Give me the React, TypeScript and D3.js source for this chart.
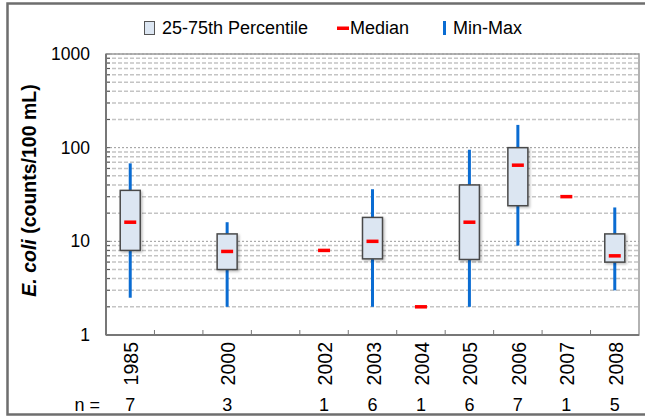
import React from "react";
import * as d3 from "d3";

const slots = ["1985", "gapA", "2000", "gapB", "2002", "2003", "2004", "2005", "2006", "2007", "2008"];
const years = ["1985", "2000", "2002", "2003", "2004", "2005", "2006", "2007", "2008"];
const q1 = [8, 5, null, 6.5, null, 6.4, 24, null, 6];
const q3 = [35, 12, null, 18, null, 40, 100, null, 12];
const medians = [16, 7.8, 8, 10, 2, 16, 65, 30, 7];
const mins = [2.5, 2, null, 2, null, 2, 9, null, 3];
const maxs = [68, 16, null, 36, null, 95, 175, null, 23];
const counts = [7, 3, 1, 6, 1, 6, 7, 1, 5];
const yTickLabels = [1, 10, 100, 1000];

const W = 645, H = 418;
const M = { left: 106, right: 639, top: 54, bottom: 335 };
const FONT = "Liberation Sans, Arial, sans-serif";
const BLUE = "#0a6cd2";
const RED = "#ff0000";

export default function App() {
  const x = d3.scaleBand<string>().domain(slots).range([M.left, M.right]);
  const y = d3.scaleLog().domain([1, 1000]).range([M.bottom, M.top]);
  const cx = (yr: string) => (x(yr) as number) + x.bandwidth() / 2;

  const gridVals: { v: number; major: boolean }[] = [];
  for (let d = 1; d <= 100; d *= 10) {
    for (let k = 1; k <= 10; k++) {
      const v = d * k;
      if (v === 1) continue;
      if (k === 10 && d < 100) continue;
      gridVals.push({ v, major: k === 1 || k === 10 });
    }
  }

  const boxW = 20, medW = 12;
  const boundaries = slots.slice(1).map((s) => x(s) as number);

  return (
    <svg width={W} height={H} style={{ display: "block", position: "absolute", left: 0, top: 0 }} fontFamily={FONT}>
      <defs>
        <filter id="sh" x="-20%" y="-20%" width="150%" height="150%">
          <feDropShadow dx="1.5" dy="1.5" stdDeviation="0.8" floodColor="#000" floodOpacity="0.25" />
        </filter>
      </defs>
      <rect x={0} y={0} width={W} height={H} fill="#fff" />
      <rect x={7.5} y={3.5} width={W + 5} height={411} fill="none" stroke="#6e6e6e" strokeWidth={2.5} />

      {/* legend */}
      <g fontSize={18} fill="#000">
        <rect x={144.5} y={21.5} width={10} height={13} fill="#dce6f2" stroke="#555" strokeWidth={1} />
        <text x={162} y={28} dominantBaseline="central">25-75th Percentile</text>
        <rect x={337} y={26.5} width={12} height={3.5} fill={RED} />
        <text x={350} y={28} dominantBaseline="central">Median</text>
        <rect x={443} y={21} width={3} height={14} fill={BLUE} />
        <text x={453} y={28} dominantBaseline="central">Min-Max</text>
      </g>

      {/* gridlines */}
      {gridVals.map((g) => (
        <line key={"g" + g.v} x1={M.left} x2={M.right} y1={y(g.v)} y2={y(g.v)}
          stroke={g.major ? "#9a9a9a" : "#c4c4c4"} strokeWidth={g.major ? 1 : 1.5}
          strokeDasharray={g.major ? "2,2" : "4,2"} />
      ))}
      {/* y ticks */}
      {gridVals.map((g) => (
        <line key={"t" + g.v} x1={M.left} x2={M.left + 4} y1={y(g.v)} y2={y(g.v)} stroke="#555" strokeWidth={1} />
      ))}

      {/* plot border */}
      <rect x={M.left} y={M.top} width={M.right - M.left} height={M.bottom - M.top} fill="none" stroke="#9a9a9a" strokeWidth={1.5} />
      <line x1={M.left} x2={M.left} y1={M.top} y2={M.bottom} stroke="#777" strokeWidth={2} />
      <line x1={M.left} x2={M.right} y1={M.bottom} y2={M.bottom} stroke="#777" strokeWidth={2} />
      {boundaries.map((bx, i) => (
        <line key={"xt" + i} x1={bx} x2={bx} y1={M.bottom} y2={M.bottom - 5} stroke="#777" strokeWidth={1} />
      ))}

      {/* y tick labels */}
      {yTickLabels.map((v) => (
        <text key={"yl" + v} x={90} y={y(v)} textAnchor="end" dominantBaseline="central" fontSize={17.5}>{v}</text>
      ))}

      {/* y title */}
      <text transform={`translate(29,${(M.top + M.bottom) / 2 - 4}) rotate(-90)`} textAnchor="middle" dominantBaseline="central" fontSize={19.5} fontWeight="bold">
        <tspan fontStyle="italic">E. coli</tspan> (counts/100 mL)
      </text>

      {/* marks */}
      {years.map((yr, i) => {
        const c = cx(yr);
        return (
          <g key={yr}>
            {mins[i] != null && maxs[i] != null && (
              <line x1={c} x2={c} y1={y(mins[i] as number)} y2={y(maxs[i] as number)} stroke={BLUE} strokeWidth={3} />
            )}
            {q1[i] != null && q3[i] != null && (
              <rect x={c - boxW / 2} y={y(q3[i] as number)} width={boxW} height={y(q1[i] as number) - y(q3[i] as number)}
                fill="#dce6f2" stroke="#4a4a4a" strokeWidth={1.5} filter="url(#sh)" />
            )}
            <rect x={c - medW / 2} y={y(medians[i]) - 1.75} width={medW} height={3.5} fill={RED} />
          </g>
        );
      })}

      {/* x labels */}
      {years.map((yr) => (
        <text key={"xl" + yr} transform={`translate(${cx(yr) + 1},342) rotate(-90)`} textAnchor="end" dominantBaseline="central" fontSize={19.5}>{yr}</text>
      ))}

      {/* n row */}
      <text x={100} y={405} textAnchor="end" dominantBaseline="central" fontSize={18}>n =</text>
      {years.map((yr, i) => (
        <text key={"n" + yr} x={cx(yr)} y={405} textAnchor="middle" dominantBaseline="central" fontSize={18}>{counts[i]}</text>
      ))}
    </svg>
  );
}
